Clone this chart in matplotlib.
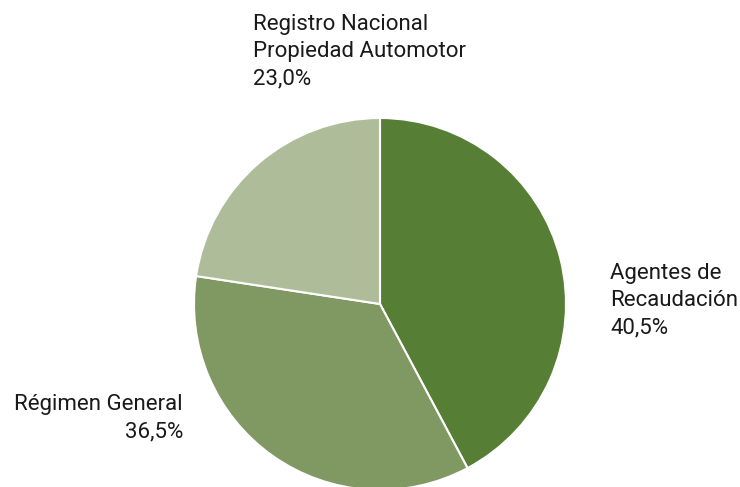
import matplotlib
matplotlib.use("Agg")
import matplotlib.pyplot as plt

# slice shares as drawn, and the printed labels
categories = ["Agentes de\nRecaudación", "Régimen General", "Registro Nacional\nPropiedad Automotor"]
shares = [42.2, 35.2, 22.6]
pct_labels = ["40,5%", "36,5%", "23,0%"]
colors = ["#577e35", "#809963", "#aebc9a"]

W, H = 740, 487
plt.rcParams['font.family'] = ['Roboto', 'DejaVu Sans']

fig = plt.figure(figsize=(W / 100, H / 100), dpi=100)
cx, cy, r = 380, 304, 186
ax = fig.add_axes([(cx - r) / W, (H - cy - r) / H, 2 * r / W, 2 * r / H])
ax.pie(shares, colors=colors, startangle=90, counterclock=False, radius=1,
       wedgeprops=dict(edgecolor="white", linewidth=1.5))
ax.set_xlim(-1, 1)
ax.set_ylim(-1, 1)
ax.set_aspect("equal")
ax.axis("off")

txt = dict(fontsize=16, color="#1a1a1a", linespacing=1.4, va="center")
fig.text(610 / W, 1 - 301 / H, categories[0] + "\n" + pct_labels[0], ha="left", **txt)
fig.text(183 / W, 1 - 418 / H, categories[1] + "\n" + pct_labels[1], ha="right",
         multialignment="right", **txt)
fig.text(253 / W, 1 - 52 / H, categories[2] + "\n" + pct_labels[2], ha="left", **txt)

fig.savefig("out.png", dpi=100)
